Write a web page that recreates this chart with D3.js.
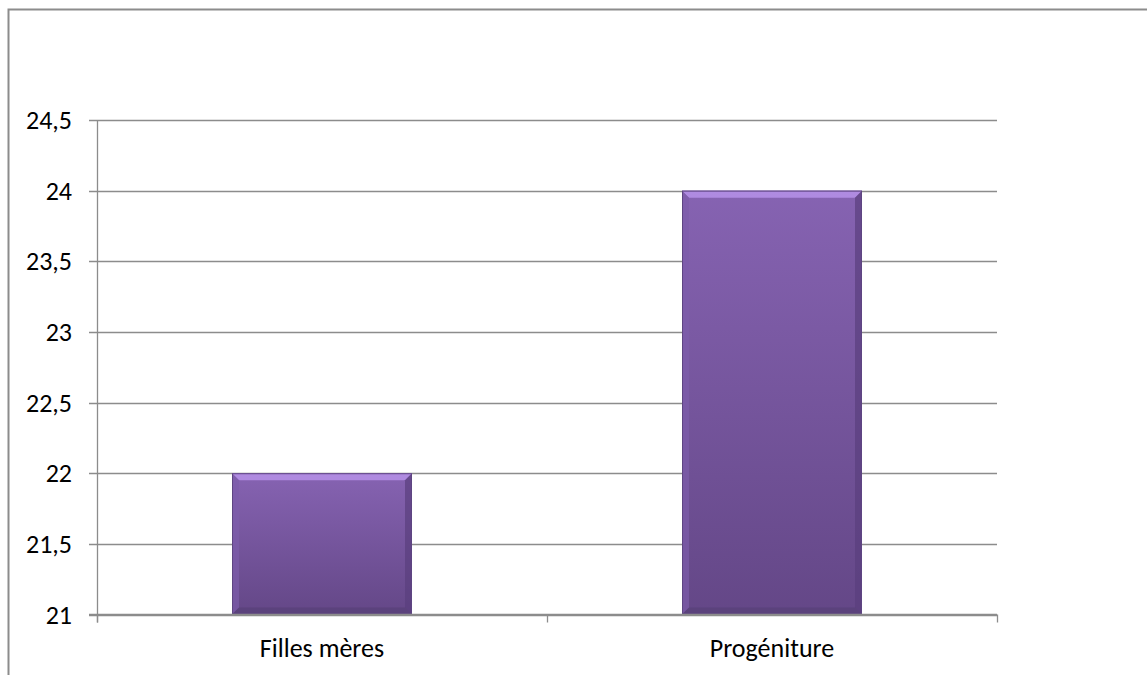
<!DOCTYPE html>
<html><head><meta charset="utf-8">
<script src="https://cdn.jsdelivr.net/npm/d3@7"></script>
<style>body{margin:0;background:#fff}svg{display:block}text{font-family:Carlito,Calibri,Lato,"Open Sans",sans-serif;font-size:26px;fill:#000}</style>
</head><body>
<script>
const categories = ["Filles mères", "Progéniture"];
const values = [22, 24];
const yTicks = [21, 21.5, 22, 22.5, 23, 23.5, 24, 24.5];

const W = 1147, H = 675;
const svg = d3.select("body").append("svg").attr("width", W).attr("height", H);
const defs = svg.append("defs");
const g1 = defs.append("linearGradient").attr("id","barG").attr("x1",0).attr("y1",0).attr("x2",0).attr("y2",1);
g1.append("stop").attr("offset","0%").attr("stop-color","#8663b2");
g1.append("stop").attr("offset","100%").attr("stop-color","#644787");

// outer frame
svg.append("path").attr("d","M8.5,675 V9.5 H1147").attr("fill","none").attr("stroke","#8c8c8c").attr("stroke-width",2);

const pLeft = 97, pRight = 997, pTop = 120, pBottom = 614.5;
const x = d3.scaleBand().domain(categories).range([pLeft, pRight]).paddingInner(0.6).paddingOuter(0.3);
const y = d3.scaleLinear().domain([21, 24.5]).range([pBottom, pTop]);
const fmt = v => String(v).replace(".", ",");

// gridlines
svg.append("g").selectAll("line").data(yTicks).join("line")
  .attr("x1", pLeft - 8).attr("x2", pRight).attr("y1", d => Math.round(y(d)) + 0.5).attr("y2", d => Math.round(y(d)) + 0.5)
  .attr("stroke", "#8c8c8c").attr("stroke-width", 1.3);

// y labels
svg.append("g").selectAll("text").data(yTicks).join("text")
  .attr("x", 72).attr("y", d => y(d)).attr("dy", "0.35em").attr("text-anchor", "end").text(fmt);

// bars
const bars = svg.append("g").selectAll("g").data(categories).join("g");
const bev = 7;
bars.each(function(c, i) {
  const gg = d3.select(this);
  const x0 = x(c), w = x.bandwidth(), y0 = y(values[i]), h = y(21) - y0;
  gg.append("rect").attr("x", x0).attr("y", y0).attr("width", w).attr("height", h).attr("fill", "url(#barG)");
  gg.append("path").attr("d", `M${x0},${y0} H${x0+w} L${x0+w-bev},${y0+bev} H${x0+bev} Z`).attr("fill", "#b48fe6").attr("opacity", 0.9);
  gg.append("path").attr("d", `M${x0},${y0} L${x0+bev},${y0+bev} V${y0+h-bev} L${x0},${y0+h} Z`).attr("fill", "#7e5cab").attr("opacity", 0.7);
  gg.append("path").attr("d", `M${x0+w},${y0} L${x0+w-bev},${y0+bev} V${y0+h-bev} L${x0+w},${y0+h} Z`).attr("fill", "#5a3f7e").attr("opacity", 0.7);
  gg.append("path").attr("d", `M${x0},${y0+h} L${x0+bev},${y0+h-bev} H${x0+w-bev} L${x0+w},${y0+h} Z`).attr("fill", "#574078").attr("opacity", 0.7);
  gg.append("rect").attr("x", x0 + 0.5).attr("y", y0 + 0.5).attr("width", w - 1).attr("height", h - 1).attr("fill", "none").attr("stroke", "#5e4582").attr("stroke-width", 1);
});

// axes lines
svg.append("line").attr("x1", pLeft + 0.5).attr("x2", pLeft + 0.5).attr("y1", pTop).attr("y2", pBottom + 8).attr("stroke", "#8c8c8c").attr("stroke-width", 1.3);
svg.append("line").attr("x1", pLeft - 8).attr("x2", pRight).attr("y1", pBottom).attr("y2", pBottom).attr("stroke", "#8c8c8c").attr("stroke-width", 1.3);
const xTicks = [pLeft, (pLeft + pRight) / 2, pRight];
svg.append("g").selectAll("line").data(xTicks).join("line")
  .attr("x1", d => d + 0.5).attr("x2", d => d + 0.5).attr("y1", pBottom).attr("y2", pBottom + 8)
  .attr("stroke", "#8c8c8c").attr("stroke-width", 1.3);

// x labels
svg.append("g").selectAll("text").data(categories).join("text")
  .attr("x", d => x(d) + x.bandwidth() / 2).attr("y", 657).attr("text-anchor", "middle").text(d => d);
</script>
</body></html>
